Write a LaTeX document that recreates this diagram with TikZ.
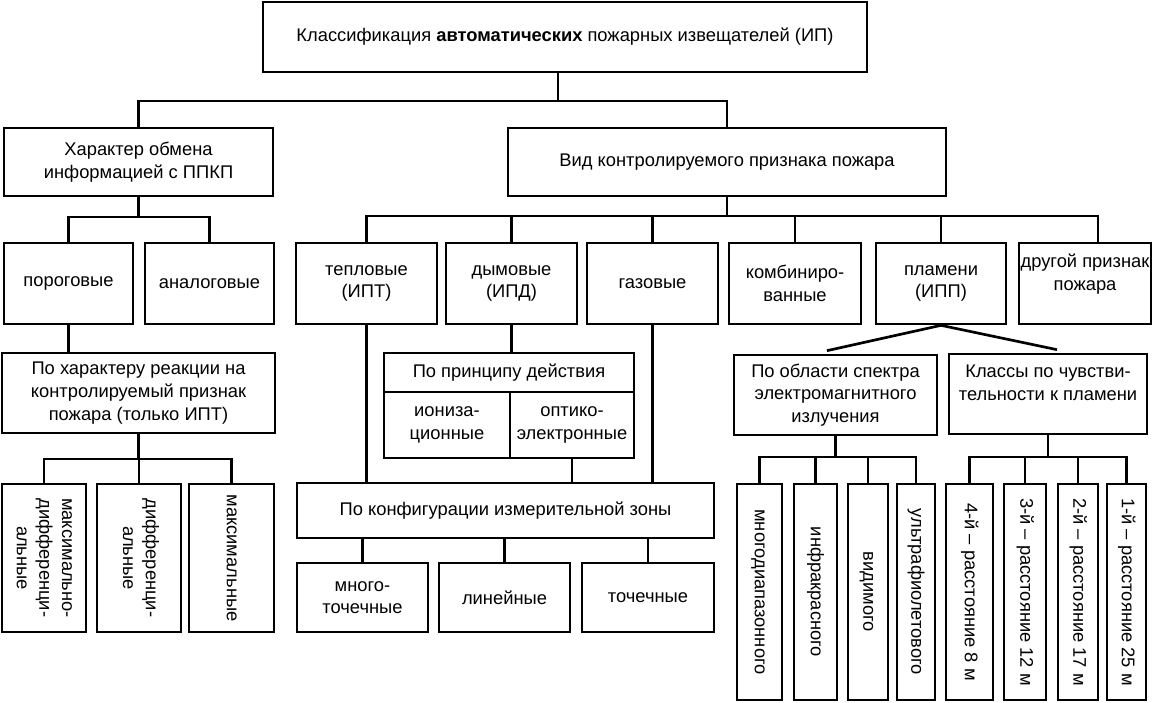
\documentclass[tikz,border=0pt]{standalone}
\usepackage{fontspec}
\setmainfont{Liberation Sans}
\tikzset{x=0.75pt, y=-0.75pt, % one unit is one pixel of the scheme, y goes down
box/.style 2 args={draw, line width=2pt, minimum width=#1*0.75pt, minimum height=#2*0.75pt, inner sep=1pt, align=center}, % framed box, width and height in pixels
link/.style={line width=2pt}, % the connecting lines
}
\newcommand{\vtext}[1]{\rotatebox{-90}{\begin{tabular}{@{}c@{}}#1\end{tabular}}} % text that runs downwards

\begin{document}
\begin{tikzpicture}[font=\fontsize{13.75}{17}\selectfont]
  \fill[white] (0,0) rectangle (1153,703);

  \node[box={604}{70}] (top) at (565,37) {Классификация \textbf{автоматических} пожарных извещателей (ИП)};

  \node[box={269}{68}] (har) at (138.5,162) {Характер обмена\\информацией с ППКП};
  \node[box={438}{68}] (vid) at (727,162) {Вид контролируемого признака пожара};

  \node[box={129}{81}] (porog) at (68.5,283.5) {пороговые};
  \node[box={129}{81}] (analog) at (209.5,283.5) {аналоговые};
  \node[box={141}{81}] (tepl) at (366.5,283.5) {тепловые\\(ИПТ)};
  \node[box={131}{81}] (dym) at (511.5,283.5) {дымовые\\(ИПД)};
  \node[box={131}{81}] (gaz) at (652.5,283.5) {газовые};
  \node[box={132}{81}] (komb) at (795,283.5) {комбиниро-\\ванные};
  \node[box={130}{81}] (plam) at (941,283.5) {пламени\\(ИПП)};
  \node[box={132}{81}] (drug) at (1085,283.5) {другой признак\\пожара\\~};

  \node[box={273}{80}] (reak) at (138.5,393) {По характеру реакции на\\контролируемый признак\\пожара (только ИПТ)};
  \node[box={84}{148}] (maxdif) at (44,558) {\vtext{максимально-\\дифференци-\\альные}};
  \node[box={84}{148}] (dif) at (139,558) {\vtext{дифференци-\\альные}};
  \node[box={85}{148}] (max) at (231.5,558) {\vtext{максимальные}};

  \node[box={250}{39}] (princ) at (509,372.5) {По принципу действия};
  \node[box={126}{66}] (ion) at (447,425) {иониза-\\ционные};
  \node[box={124}{66}] (opt) at (572,425) {оптико-\\электронные};

  \node[box={417}{55}] (konf) at (505.5,510.5) {По конфигурации измерительной зоны};
  \node[box={131}{69}] (mnogo) at (362.5,597.5) {много-\\точечные};
  \node[box={131}{69}] (lin) at (504.5,597.5) {линейные};
  \node[box={132}{69}] (toch) at (648,597.5) {точечные};

  \node[box={203}{80}] (spek) at (835.5,395) {По области спектра\\электромагнитного\\излучения};
  \node[box={198}{80}] (klass) at (1048,394) {Классы по чувстви-\\тельности к пламени\\~};
  \node[box={45}{216}] (mnd) at (759.5,592) {\vtext{многодиапазонного}};
  \node[box={43}{216}] (ik) at (815.5,592) {\vtext{инфракрасного}};
  \node[box={40}{216}] (vis) at (868,592) {\vtext{видимого}};
  \node[box={38}{216}] (uf) at (916,592) {\vtext{ультрафиолетового}};
  \node[box={47}{216}] (k4) at (969.5,592) {\vtext{4-й – расстояние 8 м}};
  \node[box={42}{216}] (k3) at (1025,592) {\vtext{3-й – расстояние 12 м}};
  \node[box={40}{216}] (k2) at (1078,592) {\vtext{2-й – расстояние 17 м}};
  \node[box={39}{216}] (k1) at (1126.5,592) {\vtext{1-й – расстояние 25 м}};

  % levels of the horizontal bars
  \coordinate (b0) at (0,101);
  \coordinate (b1) at (0,217);
  \coordinate (b2) at (0,216);
  \coordinate (b3) at (0,459);
  \coordinate (b4) at (0,457);
  \coordinate (t0) at ([xshift=-5.25pt]top.south);
  \coordinate (d0) at ([xshift=9.75pt]drug.north);
  \coordinate (s0) at ([xshift=-6.4pt,yshift=2.25pt]spek.north);
  \coordinate (c0) at ([xshift=6.75pt,yshift=2.25pt]klass.north);

  \draw[link] (t0) -- (t0 |- b0);
  \draw[link] (har.north) -- (har.north |- b0) -- (vid.north |- b0) -- (vid.north);

  \draw[link] (har.south) -- (har.south |- b1);
  \draw[link] (porog.north) -- (porog.north |- b1) -- (analog.north |- b1) -- (analog.north);

  \draw[link] (vid.south) -- (vid.south |- b2);
  \draw[link] (tepl.north) -- (tepl.north |- b2) -- (d0 |- b2) -- (d0);
  \draw[link] (dym.north) -- (dym.north |- b2);
  \draw[link] (gaz.north) -- (gaz.north |- b2);
  \draw[link] (komb.north) -- (komb.north |- b2);
  \draw[link] (plam.north) -- (plam.north |- b2);

  \draw[link] (porog.south) -- (porog.south |- reak.north);
  \draw[link] (reak.south) -- (reak.south |- b3);
  \draw[link] (maxdif.north) -- (maxdif.north |- b3) -- (max.north |- b3) -- (max.north);
  \draw[link] (dif.north) -- (dif.north |- b3);

  \draw[link] (tepl.south) -- (tepl.south |- konf.north);
  \draw[link] (gaz.south) -- (gaz.south |- konf.north);
  \draw[link] (dym.south) -- (dym.south |- princ.north);
  \draw[link] (opt.south) -- (opt.south |- konf.north);
  \draw[link] (mnogo.north) -- (mnogo.north |- konf.south);
  \draw[link] (lin.north) -- (lin.north |- konf.south);
  \draw[link] (toch.north) -- (toch.north |- konf.south);

  \draw[link] (s0) -- (plam.south) -- (c0);
  \draw[link] (spek.south) -- (spek.south |- b4);
  \draw[link] (mnd.north) -- (mnd.north |- b4) -- (uf.north |- b4) -- (uf.north);
  \draw[link] (ik.north) -- (ik.north |- b4);
  \draw[link] (vis.north) -- (vis.north |- b4);
  \draw[link] (klass.south) -- (klass.south |- b4);
  \draw[link] (k4.north) -- (k4.north |- b4) -- (k1.north |- b4) -- (k1.north);
  \draw[link] (k3.north) -- (k3.north |- b4);
  \draw[link] (k2.north) -- (k2.north |- b4);
\end{tikzpicture}
\end{document}
